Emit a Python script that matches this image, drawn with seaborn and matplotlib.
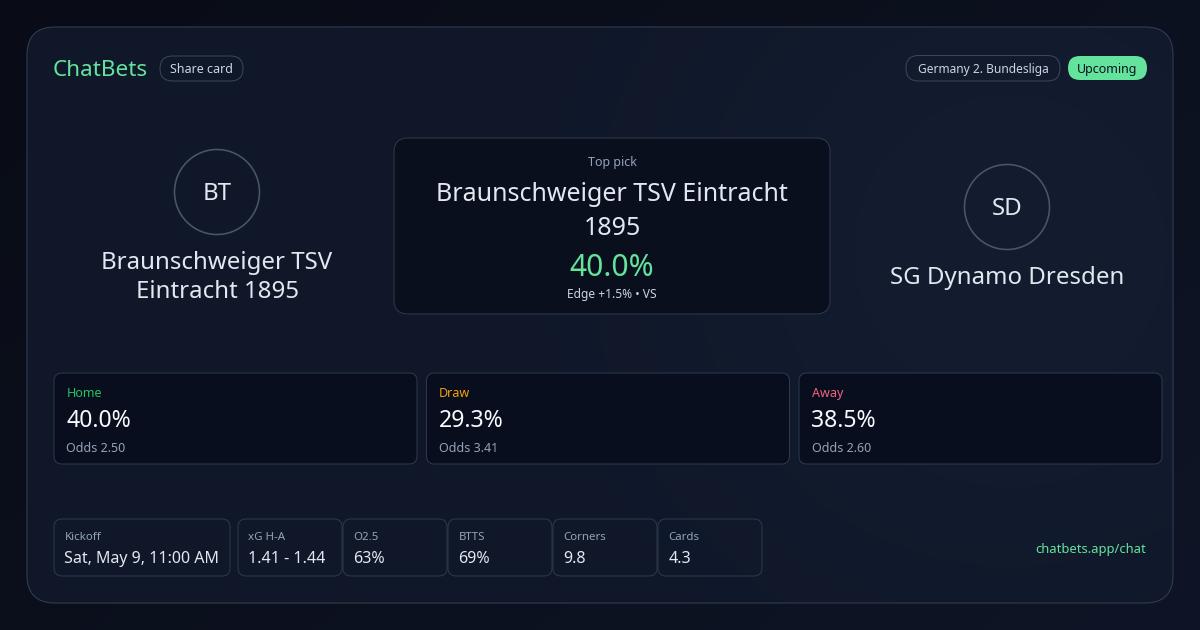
import numpy as np
import matplotlib
matplotlib.use("Agg")
import matplotlib.pyplot as plt
from matplotlib.patches import FancyBboxPatch, Circle
import seaborn as sns

# ---------------- data ----------------
brand = "ChatBets"
share_label = "Share card"
league = "Germany 2. Bundesliga"
status = "Upcoming"
home_team_lines = ["Braunschweiger TSV", "Eintracht 1895"]
away_team = "SG Dynamo Dresden"
home_initials = "BT"
away_initials = "SD"
top_pick_label = "Top pick"
top_pick_lines = ["Braunschweiger TSV Eintracht", "1895"]
top_pick_prob = 40.0
edge_pct = 1.5
edge_tag = "VS"
outcomes = ["Home", "Draw", "Away"]
probs = [40.0, 29.3, 38.5]
odds = [2.50, 3.41, 2.60]
stat_labels = ["Kickoff", "xG H-A", "O2.5", "BTTS", "Corners", "Cards"]
stat_values = ["Sat, May 9, 11:00 AM", "1.41 - 1.44", "63%", "69%", "9.8", "4.3"]
footer_url = "chatbets.app/chat"

# ---------------- style ----------------
sns.set_theme(style="dark")
plt.rcParams["font.family"] = ["Noto Sans", "DejaVu Sans"]

GREEN = "#63e39b"
BORDER = "#2e394d"
TXT = "#e2e8f0"
MUTED = "#94a3b8"
outcome_colors = ["#22c55e", "#f59e0b", "#f2627c"]

def px(p):
    return p * 0.72

fig = plt.figure(figsize=(12, 6.3), dpi=100)
ax = fig.add_axes([0, 0, 1, 1])
ax.set_xlim(0, 1200)
ax.set_ylim(630, 0)
ax.axis("off")

yy, xx = np.mgrid[0:630, 0:1200]
# outer background
t = np.clip(xx / 1200 * 0.6 + yy / 630 * 0.4, 0, 1)
c0 = np.array([0x09, 0x0c, 0x16]) / 255
c1 = np.array([0x0f, 0x15, 0x26]) / 255
bg = c0 + (c1 - c0) * t[..., None]
ax.imshow(bg, extent=(0, 1200, 630, 0), zorder=0, interpolation="bilinear", aspect="auto")

# card
card = FancyBboxPatch((27, 27), 1146, 576, boxstyle="round,pad=0,rounding_size=28",
                      fc="none", ec=BORDER, lw=px(1.2), zorder=2)
ax.add_patch(card)
d = np.sqrt((xx - 1010) ** 2 + (yy - 250) ** 2)
g = np.exp(-(d / 330) ** 2)
base = np.array([0x0f, 0x17, 0x29]) / 255
glow = np.array([0x14, 0x1c, 0x30]) / 255
cimg = base + (glow - base) * g[..., None]
im = ax.imshow(cimg, extent=(0, 1200, 630, 0), zorder=1, interpolation="bilinear", aspect="auto")
im.set_clip_path(card)

def rbox(x, y, w, h, r, fc="none", ec=BORDER, lw=1.0, z=3):
    p = FancyBboxPatch((x, y), w, h, boxstyle=f"round,pad=0,rounding_size={r}",
                       fc=fc, ec=ec, lw=px(lw), zorder=z)
    ax.add_patch(p)
    return p

def txt(x, y, s, size, color=TXT, ha="left", va="center", **kw):
    ax.text(x, y + 0.1 * size, s, fontsize=px(size), color=color, ha=ha, va=va, zorder=5, **kw)

# header
txt(53, 68, brand, 22.5, GREEN)
rbox(160, 56, 83, 25, 12.5, ec="#3b475b")
txt(201.5, 68.5, share_label, 12.5, "#cbd5e1", ha="center")
rbox(906, 55.5, 154, 25.5, 12.5, ec="#3b475b")
txt(983, 68.5, league, 12, "#cbd5e1", ha="center")
rbox(1068, 56, 79, 24, 12, fc="#63e39b", ec="none")
txt(1107.5, 68.5, status, 12.5, "#0b1220", ha="center")

# home team
ax.add_patch(Circle((217, 192), 42.5, fc="none", ec="#4a5568", lw=px(1.6), zorder=3))
txt(217, 192, home_initials, 24, TXT, ha="center")
for i, line in enumerate(home_team_lines):
    txt(217, 261 + i * 28.5, line, 24, TXT, ha="center")

# away team
ax.add_patch(Circle((1007, 207), 42.5, fc="none", ec="#4a5568", lw=px(1.6), zorder=3))
txt(1007, 207, away_initials, 24, TXT, ha="center")
txt(1007, 276, away_team, 24, TXT, ha="center")

# top pick
rbox(394, 138, 436, 176, 14, fc="#0a0f1e", ec=BORDER)
txt(612, 161, top_pick_label, 12.5, MUTED, ha="center")
for i, line in enumerate(top_pick_lines):
    txt(612, 192 + i * 34, line, 25, TXT, ha="center")
txt(612, 265, f"{top_pick_prob:.1f}%", 30, GREEN, ha="center")
txt(612, 293, f"Edge +{edge_pct:.1f}% \u2022 {edge_tag}", 12, "#cbd5e1", ha="center")

# outcome cards
card_w, card_gap = 363, 9.5
for i, (name, p, o) in enumerate(zip(outcomes, probs, odds)):
    x0 = 54 + i * (card_w + card_gap)
    rbox(x0, 373, card_w, 91, 8, fc="#090e1f", ec=BORDER)
    txt(x0 + 12.5, 392, name, 12.5, outcome_colors[i])
    txt(x0 + 12.5, 419, f"{p:.1f}%", 23, "#f8fafc")
    txt(x0 + 12.5, 447, f"Odds {o:.2f}", 12.5, MUTED)

# stat boxes
stat_x = [54, 238, 343, 448, 553, 658]
stat_w = [176, 104, 104, 104, 104, 104]
for x0, w, lab, val in zip(stat_x, stat_w, stat_labels, stat_values):
    rbox(x0, 519, w, 57, 8, fc="none", ec=BORDER)
    txt(x0 + 10.5, 536, lab, 11.5, MUTED)
    txt(x0 + 10.5, 557.5, val, 16, TXT)

txt(1146, 548, footer_url, 13, GREEN, ha="right")

fig.savefig("out.png", dpi=100, facecolor="#0a0e18")
